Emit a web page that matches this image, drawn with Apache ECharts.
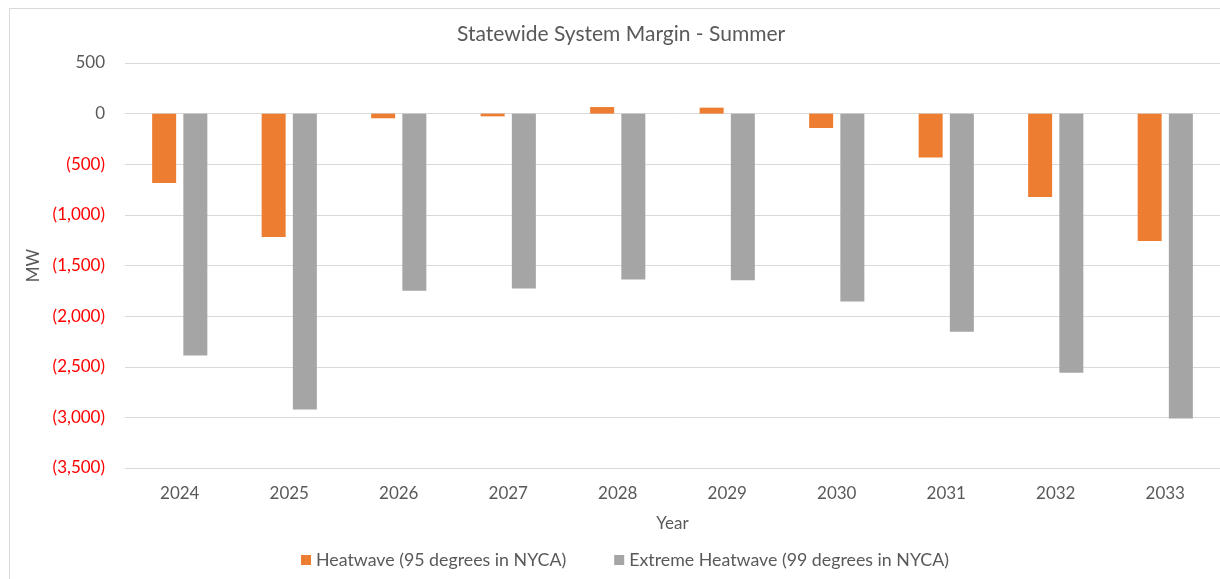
<!DOCTYPE html>
<html>
<head>
<meta charset="utf-8">
<script src="https://cdn.jsdelivr.net/npm/echarts@6/dist/echarts.min.js"></script>
<style>
    html, body {
        margin: 0;
        padding: 0;
        background: #fff;
    }

    .frame {
        position: absolute;
        left: 9px;
        top: 8px;
        width: 1230px;
        height: 600px;
        border: 1px solid #d9d9d9;
        box-sizing: border-box;
    }

    #chart {
        position: absolute;
        left: 0;
        top: 0;
        width: 1220px;
        height: 579px;
    }
</style>
</head>
<body>
<div class="frame"></div>
<div id="chart"></div>
<script>
// chart data
const years = ['2024', '2025', '2026', '2027', '2028', '2029', '2030', '2031', '2032', '2033'];
const heatwave = [-685, -1218, -46, -27, 65, 59, -142, -434, -823, -1257];
const extremeHeatwave = [-2388, -2921, -1750, -1727, -1638, -1645, -1855, -2155, -2560, -3010];
const seriesNames = ['Heatwave (95 degrees in NYCA)', 'Extreme Heatwave (99 degrees in NYCA)'];

const fontFamily = 'Lato, "Open Sans", sans-serif';
const textColor = '#595959';

// Excel style accounting numbers: (1,500)
const fmtValue = (v) => {
    const s = Math.abs(v).toLocaleString('en-US');
    return v < 0 ? '(' + s + ')' : s;
};

const myChart = echarts.init(document.getElementById('chart'));

let option = {
    animation: false,
    textStyle: {
        fontFamily: fontFamily
    },
    title: {
        text: 'Statewide System Margin - Summer',
        left: 452,
        top: 19,
        textStyle: {
            fontFamily: fontFamily,
            fontSize: 21,
            fontWeight: 'normal',
            color: textColor
        }
    },
    legend: {
        bottom: 5,
        left: 296,
        itemWidth: 10,
        itemHeight: 10,
        itemGap: 48,
        icon: 'rect',
        textStyle: {
            fontFamily: fontFamily,
            fontSize: 17.8,
            color: textColor
        }
    },
    grid: {
        left: 125,
        right: 0,
        top: 63,
        bottom: 111,
        containLabel: false
    },
    xAxis: {
        type: 'category',
        data: years,
        name: 'Year',
        nameLocation: 'middle',
        nameGap: 47,
        nameTextStyle: {
            fontFamily: fontFamily,
            fontSize: 17,
            color: textColor
        },
        axisLine: {
            show: false,
            onZero: false
        },
        axisTick: {
            show: false
        },
        axisLabel: {
            margin: 17,
            fontSize: 17,
            color: textColor
        }
    },
    yAxis: {
        type: 'value',
        min: -3500,
        max: 500,
        interval: 500,
        name: 'MW',
        nameLocation: 'middle',
        nameGap: 82,
        nameTextStyle: {
            fontFamily: fontFamily,
            fontSize: 17,
            color: textColor
        },
        axisLabel: {
            margin: 20,
            fontSize: 17,
            formatter: fmtValue,
            color: (v) => (Number(v) < 0 ? '#ff0000' : textColor)
        },
        splitLine: {
            lineStyle: {
                color: '#d9d9d9',
                width: 1
            }
        }
    },
    series: [
        {
            name: seriesNames[0],
            type: 'bar',
            data: heatwave,
            barWidth: 24,
            barGap: '30%',
            itemStyle: {
                color: '#ed7d31'
            }
        },
        {
            name: seriesNames[1],
            type: 'bar',
            data: extremeHeatwave,
            barWidth: 24,
            barGap: '30%',
            itemStyle: {
                color: '#a5a5a5'
            }
        }
    ]
};

myChart.setOption(option);
</script>
</body>
</html>
